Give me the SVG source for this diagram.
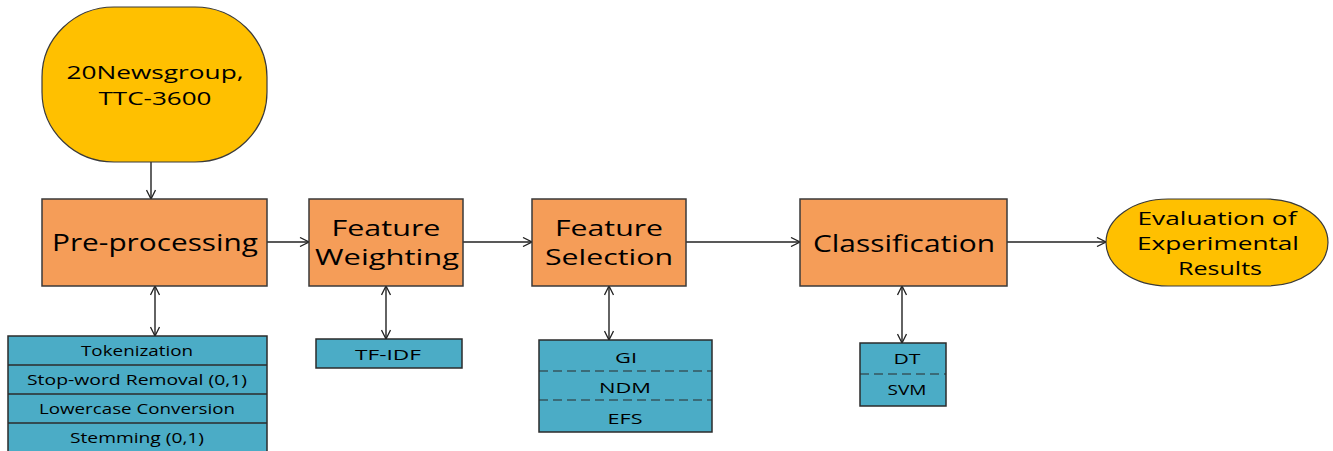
<svg xmlns="http://www.w3.org/2000/svg" width="1333" height="451" viewBox="0 0 1333 451">
<defs>
<style>
.proc{fill:#F59D58;stroke:#3a3a3a;stroke-width:1.5}
.term{fill:#FFC000;stroke:#3a3a3a;stroke-width:1.2}
.tbl{fill:#4BACC6;stroke:#2b2b2b;stroke-width:1.5}
.sep{stroke:#2b2b2b;stroke-width:1.5;fill:none}
.dash{stroke:#2b2b2b;stroke-width:1.2;stroke-dasharray:9,5;fill:none}
.big{font-family:"Open Sans","Liberation Sans",sans-serif;font-size:24px;fill:#000;text-anchor:middle}
.two{font-family:"Open Sans","Liberation Sans",sans-serif;font-size:21px;fill:#000;text-anchor:middle}
.mid{font-family:"Open Sans","Liberation Sans",sans-serif;font-size:19px;fill:#000;text-anchor:middle}
.sm{font-family:"Open Sans","Liberation Sans",sans-serif;font-size:15px;fill:#000;text-anchor:middle}
.conn{stroke:#222;stroke-width:1.4;fill:none}
</style>
<marker id="arr" viewBox="0 0 10 10" refX="10" refY="5" markerWidth="10" markerHeight="10" markerUnits="userSpaceOnUse" orient="auto-start-reverse">
<polyline points="1,0.5 10,5 1,9.5" fill="none" stroke="#222" stroke-width="1.3"/>
</marker>
</defs>
<rect width="1333" height="451" fill="#fff"/>
<g id="connectors">
<line class="conn" x1="151" y1="162" x2="151" y2="199" marker-end="url(#arr)"/>
<line class="conn" x1="267" y1="242" x2="309" y2="242" marker-end="url(#arr)"/>
<line class="conn" x1="463" y1="242" x2="532" y2="242" marker-end="url(#arr)"/>
<line class="conn" x1="686" y1="242" x2="800" y2="242" marker-end="url(#arr)"/>
<line class="conn" x1="1007" y1="242" x2="1106" y2="242" marker-end="url(#arr)"/>
<line class="conn" x1="155" y1="286" x2="155" y2="336" marker-start="url(#arr)" marker-end="url(#arr)"/>
<line class="conn" x1="386" y1="286" x2="386" y2="339" marker-start="url(#arr)" marker-end="url(#arr)"/>
<line class="conn" x1="609" y1="286" x2="609" y2="340" marker-start="url(#arr)" marker-end="url(#arr)"/>
<line class="conn" x1="902" y1="286" x2="902" y2="343" marker-start="url(#arr)" marker-end="url(#arr)"/>
</g>
<g id="dataset">
<rect class="term" x="42" y="7" width="225" height="155" rx="72" ry="70"/>
<text class="mid" x="155" y="79" textLength="177" lengthAdjust="spacingAndGlyphs">20Newsgroup,</text>
<text class="mid" x="155" y="105" textLength="113" lengthAdjust="spacingAndGlyphs">TTC-3600</text>
</g>
<g id="preprocessing">
<rect class="proc" x="42" y="199" width="225" height="87"/>
<text class="big" x="155" y="251" textLength="206" lengthAdjust="spacingAndGlyphs">Pre-processing</text>
</g>
<g id="feature-weighting">
<rect class="proc" x="309" y="199" width="154" height="87"/>
<text class="two" x="386" y="236" textLength="109" lengthAdjust="spacingAndGlyphs">Feature</text>
<text class="two" x="387" y="265" textLength="144" lengthAdjust="spacingAndGlyphs">Weighting</text>
</g>
<g id="feature-selection">
<rect class="proc" x="532" y="199" width="154" height="87"/>
<text class="two" x="609" y="236" textLength="108" lengthAdjust="spacingAndGlyphs">Feature</text>
<text class="two" x="609" y="265" textLength="128" lengthAdjust="spacingAndGlyphs">Selection</text>
</g>
<g id="classification">
<rect class="proc" x="800" y="199" width="207" height="87"/>
<text class="big" x="904" y="252" textLength="182" lengthAdjust="spacingAndGlyphs">Classification</text>
</g>
<g id="evaluation">
<rect class="term" x="1106" y="199" width="222" height="87" rx="62" ry="43.5"/>
<text class="mid" x="1217" y="225" textLength="159" lengthAdjust="spacingAndGlyphs">Evaluation of</text>
<text class="mid" x="1218" y="250" textLength="162" lengthAdjust="spacingAndGlyphs">Experimental</text>
<text class="mid" x="1220" y="275" textLength="84" lengthAdjust="spacingAndGlyphs">Results</text>
</g>
<g id="preprocessing-steps">
<rect class="tbl" x="8" y="336" width="259" height="117"/>
<line class="sep" x1="8" y1="365" x2="267" y2="365"/>
<line class="sep" x1="8" y1="394" x2="267" y2="394"/>
<line class="sep" x1="8" y1="423" x2="267" y2="423"/>
<text class="sm" x="137" y="356" textLength="112" lengthAdjust="spacingAndGlyphs">Tokenization</text>
<text class="sm" x="137" y="385" textLength="220" lengthAdjust="spacingAndGlyphs">Stop-word Removal (0,1)</text>
<text class="sm" x="137" y="414" textLength="196" lengthAdjust="spacingAndGlyphs">Lowercase Conversion</text>
<text class="sm" x="137" y="443" textLength="134" lengthAdjust="spacingAndGlyphs">Stemming (0,1)</text>
</g>
<g id="tfidf">
<rect class="tbl" x="316" y="339" width="146" height="29"/>
<text class="sm" x="388" y="360" font-size="16" textLength="66" lengthAdjust="spacingAndGlyphs">TF-IDF</text>
</g>
<g id="selection-methods">
<rect class="tbl" x="539" y="340" width="173" height="92"/>
<line class="dash" x1="539" y1="371" x2="712" y2="371"/>
<line class="dash" x1="539" y1="400" x2="712" y2="400"/>
<text class="sm" x="626" y="363" font-size="16" textLength="22" lengthAdjust="spacingAndGlyphs">GI</text>
<text class="sm" x="625" y="393" font-size="16" textLength="52" lengthAdjust="spacingAndGlyphs">NDM</text>
<text class="sm" x="625" y="424" font-size="16" textLength="35" lengthAdjust="spacingAndGlyphs">EFS</text>
</g>
<g id="classifiers">
<rect class="tbl" x="860" y="343" width="86" height="63"/>
<line class="dash" x1="860" y1="374" x2="946" y2="374"/>
<text class="sm" x="907" y="364" font-size="16" textLength="27" lengthAdjust="spacingAndGlyphs">DT</text>
<text class="sm" x="907" y="395" font-size="16" textLength="39" lengthAdjust="spacingAndGlyphs">SVM</text>
</g>
</svg>
